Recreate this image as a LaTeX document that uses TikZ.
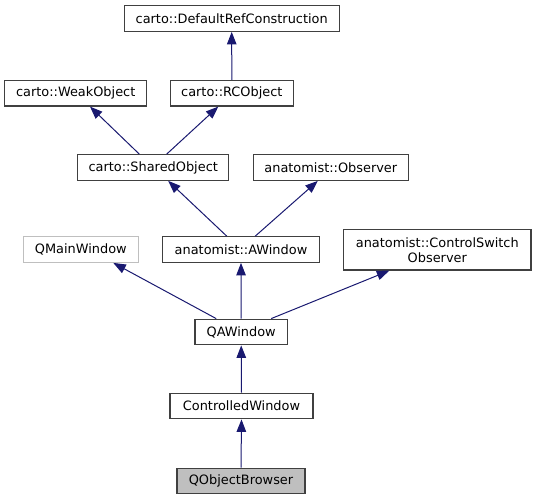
\documentclass[tikz,border=0pt]{standalone}
\usepackage{fontspec}
\setmainfont{DejaVu Sans}
\usetikzlibrary{arrows.meta}
\definecolor{edgeblue}{HTML}{191970}
\definecolor{boxborder}{HTML}{404040}
\definecolor{lightborder}{HTML}{BFBFBF}
\definecolor{curfill}{HTML}{BFBFBF}
\tikzset{
  cls/.style={draw=boxborder, line width=1.2pt, fill=white, inner sep=0pt,
    minimum height=25.6pt, align=center, text=black,
    font=\fontsize{12.9}{15}\selectfont},
  extcls/.style={cls, draw=lightborder},
  curcls/.style={cls, fill=curfill},
  inh/.style={draw=edgeblue, line width=1pt,
    -{Triangle[length=12.5pt,width=9.5pt,fill=edgeblue]}}
}
\begin{document}
\begin{tikzpicture}[x=1pt,y=-1pt]
\useasboundingbox (0,0) rectangle (536,500);
\node[cls, minimum width=215pt] (dref) at (231.7,18.5) {carto::DefaultRefConstruction};
\node[cls, minimum width=142pt] (weak) at (75.7,93.2) {carto::WeakObject};
\node[cls, minimum width=123pt] (rc) at (231.8,93.2) {carto::RCObject};
\node[cls, minimum width=151pt] (shared) at (153.2,167.5) {carto::SharedObject};
\node[cls, minimum width=155pt] (obs) at (330.8,167.5) {anatomist::Observer};
\node[extcls, minimum width=115pt] (qmw) at (80.8,249.5) {QMainWindow};
\node[cls, minimum width=156.6pt] (aw) at (241,249.5) {anatomist::AWindow};
\node[cls, minimum width=187.3pt, minimum height=40.7pt] (csw) at (437.3,249.7) {anatomist::ControlSwitch\\Observer};
\node[cls, minimum width=92.3pt] (qaw) at (241.2,332) {QAWindow};
\node[cls, minimum width=143pt] (ctl) at (241.5,406) {ControlledWindow};
\node[curcls, minimum width=128pt] (qob) at (241,481) {QObjectBrowser};

\draw[inh] (rc.north) -- (dref.south);
\draw[inh] ([xshift=-13.9pt]shared.north) -- ([xshift=14.3pt]weak.south);
\draw[inh] ([xshift=13.5pt]shared.north) -- ([xshift=-13.5pt]rc.south);
\draw[inh] ([xshift=-14.3pt]aw.north) -- ([xshift=15pt]shared.south);
\draw[inh] ([xshift=14.3pt]aw.north) -- ([xshift=-13pt]obs.south);
\draw[inh] ([xshift=-25pt]qaw.north) -- ([xshift=32.5pt]qmw.south);
\draw[inh] (qaw.north) -- (aw.south);
\draw[inh] ([xshift=30pt]qaw.north) -- ([xshift=-48pt]csw.south);
\draw[inh] (ctl.north) -- (qaw.south);
\draw[inh] (qob.north) -- (ctl.south);
\end{tikzpicture}
\end{document}
